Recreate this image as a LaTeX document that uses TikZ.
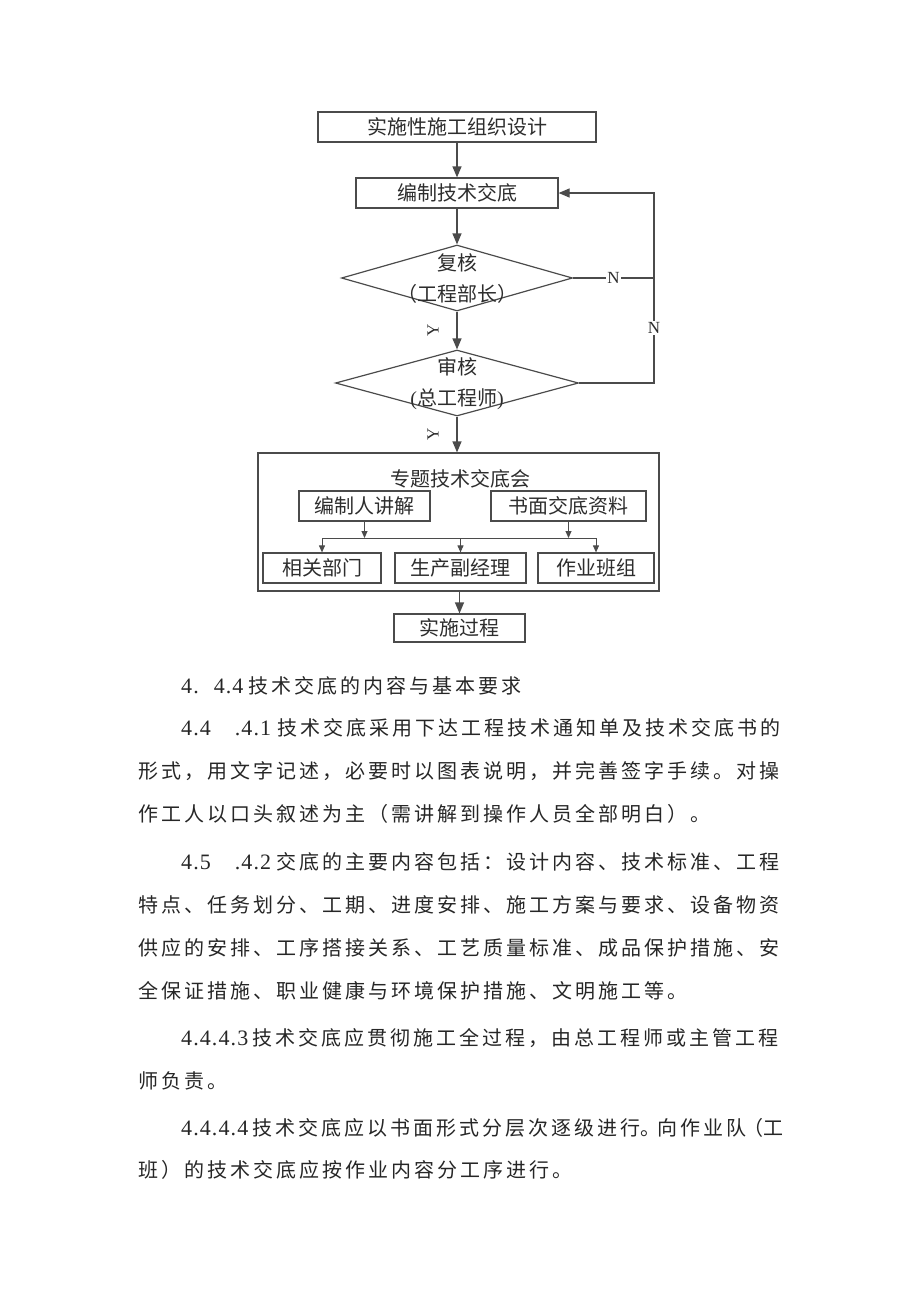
\documentclass[tikz,border=0pt]{standalone}
\usepackage{xcolor}
\usepackage{tikz}
\usepackage{fontspec}
\setmainfont{Liberation Serif}
\newfontfamily\cjk{Noto Sans CJK SC}
\newfontfamily\cjkspaced[LetterSpace=15]{Noto Sans CJK SC}
\newfontfamily\latspaced[LetterSpace=5]{Liberation Serif}
\usetikzlibrary{shapes.geometric, arrows.meta, positioning, calc}
\definecolor{lineGray}{RGB}{75, 75, 75}
\definecolor{inkGray}{RGB}{45, 45, 45}
\newcommand{\latnum}[1]{{\latspaced\fontsize{22}{24}\selectfont #1}}

\begin{document}
\begin{tikzpicture}[x=1pt, y=-1pt,
    flowbox/.style={draw=lineGray, line width=1.2pt, rectangle, minimum height=30pt,
          inner sep=0pt, font=\cjk\fontsize{20}{24}\selectfont, text=inkGray},
    decision/.style={draw=lineGray, line width=1.2pt, diamond, minimum height=66pt, inner sep=0pt},
    dectext/.style={align=center, inner sep=0pt, font=\cjk\fontsize{20}{31}\selectfont, text=inkGray},
    flow/.style={draw=lineGray, line width=1.2pt, -{Triangle[length=11pt, width=9pt]}},
    subflow/.style={draw=lineGray, line width=1pt, -{Triangle[length=7pt, width=6pt]}},
    plainline/.style={draw=lineGray, line width=1.2pt},
    yn/.style={font=\rmfamily\fontsize{17}{17}\selectfont, text=inkGray, inner sep=1.5pt},
    para/.style={anchor=west, inner sep=0pt, text height=17pt, text depth=3pt,
          font=\cjkspaced\fontsize{20}{24}\selectfont, text=black!85}]
    \useasboundingbox (0,0) rectangle (920,1301);

    % flow chart
    \node[flowbox, minimum width=278pt] (plan) at (457,127) {实施性施工组织设计};
    \node[flowbox, minimum width=202pt] (draft) at (457,193) {编制技术交底};
    \node[decision, minimum width=231pt] (review) at (457,278) {};
    \node[dectext] (reviewtxt) at (457,279) {复核\\（工程部长）};
    \node[decision, minimum width=243pt] (approve) at (457,383) {};
    \node[dectext] (approvetxt) at (457,384) {审核\\{\rmfamily(}总工程师{\rmfamily)}};

    \node[draw=lineGray, line width=1.2pt, minimum width=401pt, minimum height=138pt] (meeting) at (458.5,522) {};
    \node[font=\cjk\fontsize{20}{24}\selectfont, text=inkGray, inner sep=0pt] (meetingtitle) at (460,479) {专题技术交底会};
    \node[flowbox, minimum width=131pt] (explain) at (364.5,506) {编制人讲解};
    \node[flowbox, minimum width=155pt] (written) at (568.5,506) {书面交底资料};
    \node[flowbox, minimum width=118pt] (depts) at (322,568) {相关部门};
    \node[flowbox, minimum width=131pt] (deputy) at (460.5,568) {生产副经理};
    \node[flowbox, minimum width=116pt] (crews) at (596,568) {作业班组};
    \node[flowbox, minimum width=131pt, minimum height=28pt] (impl) at (459.5,628) {实施过程};

    \coordinate (bus) at (460,538);
    \coordinate (loopTop) at (654,193);
    \coordinate (loopMid) at (654,278);
    \coordinate (loopBot) at (654,383);

    \draw[flow] (plan) -- (draft);
    \draw[flow] (draft) -- (review);
    \draw[flow] (review) -- node[yn, midway, xshift=-24pt, rotate=90] (yes1) {Y} (approve);
    \draw[flow] (approve) -- node[yn, midway, xshift=-24pt, rotate=90] (yes2) {Y} (approve |- meeting.north);
    \draw[plainline] (review.east) -- node[yn, fill=white] (no1) {N} (loopMid);
    \draw[flow] (approve.east) -- (loopBot) -- node[yn, fill=white, pos=0.29] (no2) {N} (loopTop) -- (draft.east);

    \draw[subflow] (explain) -- (explain |- bus);
    \draw[subflow] (written) -- (written |- bus);
    \draw[plainline, line width=1pt] (depts |- bus) -- (crews |- bus);
    \foreach \target in {depts, deputy, crews}
        \draw[subflow] (\target |- bus) -- (\target);
    \draw[flow] (impl |- meeting.south) -- (impl);

    % text below
    \node[para] (txt1) at (181,686) {\latnum{4.}\hspace{15pt}\latnum{4.4}\hspace{5pt}技术交底的内容与基本要求};
    \node[para] (txt2) at (181,728) {\latnum{4.4}\hspace{24pt}\latnum{.4.1}\hspace{6pt}技术交底采用下达工程技术通知单及技术交底书的};
    \node[para] (txt3) at (138,771) {形式，用文字记述，必要时以图表说明，并完善签字手续。对操};
    \node[para] (txt4) at (138,814) {作工人以口头叙述为主（需讲解到操作人员全部明白）。};
    \node[para] (txt5) at (181,862) {\latnum{4.5}\hspace{24pt}\latnum{.4.2}\hspace{5.5pt}交底的主要内容包括：设计内容、技术标准、工程};
    \node[para] (txt6) at (138,905) {特点、任务划分、工期、进度安排、施工方案与要求、设备物资};
    \node[para] (txt7) at (138,948) {供应的安排、工序搭接关系、工艺质量标准、成品保护措施、安};
    \node[para] (txt8) at (138,991) {全保证措施、职业健康与环境保护措施、文明施工等。};
    \node[para] (txt9) at (181,1038) {\latnum{4.4.4.3}\hspace{4pt}技术交底应贯彻施工全过程，由总工程师或主管工程};
    \node[para] (txt10) at (138,1081) {师负责。};
    \node[para] (txt11) at (181,1128) {\latnum{4.4.4.4}\hspace{4pt}技术交底应以书面形式分层次逐级进行\makebox[17pt][l]{。}向作业队\makebox[17pt][r]{（}工};
    \node[para] (txt12) at (138,1170) {班）的技术交底应按作业内容分工序进行。};
\end{tikzpicture}
\end{document}
